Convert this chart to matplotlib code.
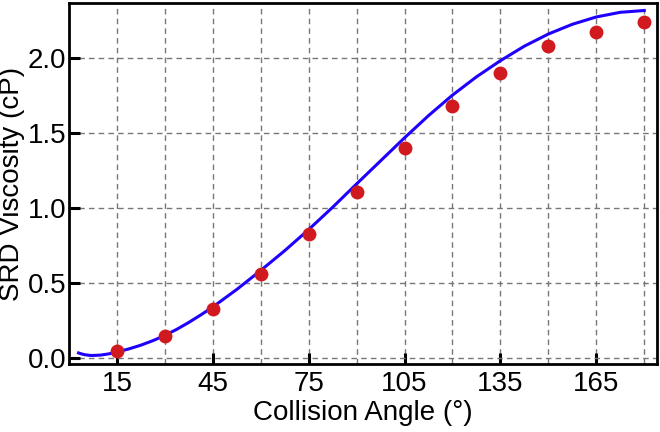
import matplotlib
matplotlib.use("Agg")
import matplotlib.pyplot as plt
from matplotlib.ticker import MultipleLocator

plt.rcParams["font.family"] = ["Liberation Sans", "DejaVu Sans"]

# --- data ---
sim_angle = [15, 30, 45, 60, 75, 90, 105, 120, 135, 150, 165, 180]
sim_visc = [0.045, 0.145, 0.327, 0.557, 0.830, 1.111, 1.401, 1.683, 1.900, 2.081, 2.177, 2.245]

theory_angle = [3, 4, 5, 6, 7, 8.5, 10, 12.5, 15, 18.75, 22.5, 26.25, 30, 33.75,
                37.5, 41.25, 45, 52.5, 60, 67.5, 75, 82.5, 90, 97.5, 105, 112.5,
                120, 127.5, 135, 142.5, 150, 157.5, 165, 172.5, 180]
theory_visc = [0.033, 0.026, 0.021, 0.018, 0.016, 0.017, 0.019, 0.027, 0.039,
               0.060, 0.085, 0.115, 0.150, 0.191, 0.237, 0.287, 0.340, 0.457,
               0.584, 0.716, 0.857, 1.006, 1.162, 1.316, 1.470, 1.618, 1.755,
               1.877, 1.985, 2.082, 2.163, 2.228, 2.277, 2.308, 2.320]

fig = plt.figure(figsize=(6.6, 4.32), dpi=100)
ax = fig.add_axes([0.1045, 0.157, 0.891, 0.836])

ax.plot(theory_angle, theory_visc, color="#1f00ff", linewidth=2.2, zorder=3)
ax.plot(sim_angle, sim_visc, "o", color="#d11a1e", markersize=10,
        markeredgewidth=0, zorder=4)

ax.set_xlim(0, 184)
ax.set_ylim(-0.042, 2.37)
ax.set_xticks([15, 45, 75, 105, 135, 165])
ax.xaxis.set_minor_locator(MultipleLocator(15))
ax.set_yticks([0.0, 0.5, 1.0, 1.5, 2.0])
ax.set_yticklabels(["0.0", "0.5", "1.0", "1.5", "2.0"])

ax.grid(True, which="both", axis="x", color="#777777", linestyle=(0, (4, 3)), linewidth=1.0)
ax.grid(True, which="major", axis="y", color="#777777", linestyle=(0, (4, 3)), linewidth=1.0)
ax.set_axisbelow(True)

ax.tick_params(which="major", direction="in", length=8, width=2.2, labelsize=20, pad=5)
ax.tick_params(which="minor", length=0)
ax.tick_params(axis="y", pad=2)
for sp in ax.spines.values():
    sp.set_linewidth(2.0)

ax.set_xlabel("Collision Angle (°)", fontsize=20, labelpad=2)
ax.set_ylabel("SRD Viscosity (cP)", fontsize=20, labelpad=2)

fig.savefig("out.png", dpi=100)
